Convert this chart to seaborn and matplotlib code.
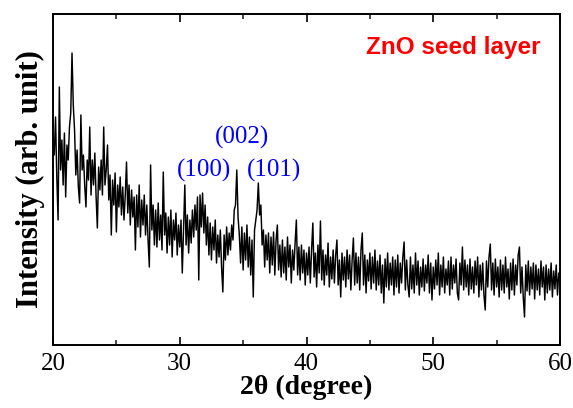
import numpy as np
import pandas as pd
import matplotlib
matplotlib.use("Agg")
import matplotlib.pyplot as plt
import seaborn as sns

# 2-theta grid (degrees): start, step
theta_start = 20.1
theta_step = 0.1

# Intensity (arb. unit), in four segments
seg_20_30 = [190, 228, 168, 125, 258, 175, 205, 160, 212, 148,
             200, 185, 218, 232, 292, 240, 215, 170, 195, 158,
             142, 230, 175, 190, 160, 138, 185, 165, 218, 150,
             185, 160, 192, 148, 117, 178, 155, 185, 150, 218,
             160, 175, 200, 145, 170, 110, 165, 140, 172, 113,
             160, 138, 168, 130, 158, 125, 150, 183, 132, 160,
             120, 155, 128, 148, 95, 150, 118, 160, 108, 145,
             120, 150, 110, 140, 105, 78, 180, 115, 140, 100,
             135, 98, 142, 105, 130, 95, 173, 110, 132, 92,
             128, 100, 135, 88, 125, 105, 132, 90, 120, 98]
seg_30_40 = [125, 72, 118, 160, 100, 130, 92, 125, 102, 135,
             108, 140, 115, 148, 65, 150, 118, 152, 112, 140,
             100, 128, 90, 122, 85, 118, 95, 125, 82, 110,
             88, 115, 78, 53, 110, 85, 118, 90, 112, 95,
             120, 105, 135, 140, 175, 128, 110, 82, 118, 75,
             112, 85, 120, 78, 108, 70, 105, 48, 115, 125,
             135, 162, 130, 140, 100, 115, 78, 110, 85, 112,
             72, 108, 80, 113, 70, 105, 120, 75, 100, 68,
             105, 72, 98, 65, 108, 78, 100, 62, 95, 75,
             102, 125, 70, 98, 65, 100, 72, 95, 60, 92]
seg_40_50 = [70, 98, 62, 95, 122, 68, 92, 58, 100, 72,
             124, 65, 95, 60, 90, 70, 102, 58, 88, 66,
             95, 62, 90, 105, 60, 85, 48, 92, 65, 88,
             58, 95, 66, 90, 55, 85, 107, 60, 92, 62,
             88, 55, 95, 112, 60, 90, 52, 85, 64, 92,
             56, 88, 62, 95, 55, 84, 60, 90, 52, 80,
             42, 86, 58, 92, 55, 82, 60, 88, 50, 85,
             58, 90, 52, 82, 62, 88, 103, 55, 85, 60,
             48, 88, 56, 80, 52, 92, 60, 84, 50, 78,
             58, 86, 54, 80, 62, 90, 52, 82, 45, 78]
seg_50_60 = [56, 85, 60, 92, 50, 80, 58, 88, 52, 76,
             60, 84, 50, 88, 56, 80, 62, 86, 52, 45,
             82, 60, 98, 55, 85, 58, 80, 50, 86, 56,
             78, 52, 84, 60, 88, 48, 80, 55, 82, 50,
             35, 84, 58, 88, 101, 55, 82, 50, 86, 58,
             78, 48, 85, 55, 80, 52, 88, 58, 76, 46,
             82, 55, 86, 50, 80, 60, 90, 98, 52, 78,
             48, 28, 80, 54, 84, 50, 78, 56, 82, 46,
             80, 55, 76, 50, 84, 58, 78, 45, 80, 52,
             76, 55, 82, 48, 74, 56, 80, 50, 72]

peak_labels = ["(100)", "(002)", "(101)"]
peak_label_x = [31.9, 34.95, 37.4]
peak_label_y = [175, 208, 175]

x_ticks = [20, 30, 40, 50, 60]

intensity = seg_20_30 + seg_30_40 + seg_40_50 + seg_50_60
two_theta = np.round(theta_start + theta_step * np.arange(len(intensity)), 2)
df = pd.DataFrame({"two_theta": two_theta, "intensity": intensity})

sns.set_theme(style="ticks")
plt.rcParams["font.family"] = ["Liberation Serif", "DejaVu Serif"]

fig = plt.figure(figsize=(5.73, 4.08), dpi=100)
ax = fig.add_axes([53 / 573, 1 - 345 / 408, 507 / 573, 331 / 408])

sns.lineplot(data=df, x="two_theta", y="intensity", color="black",
             linewidth=1.05, ax=ax, sort=False)

ax.set_xlim(20, 60)
ax.set_ylim(0, 331)
ax.set_xticks(x_ticks)
ax.set_xticks([25, 35, 45, 55], minor=True)
ax.set_yticks([])
ax.tick_params(axis="x", which="major", direction="in", length=6, width=1.2,
               top=True, labelsize=18, pad=6, colors="black")
ax.tick_params(axis="x", which="minor", direction="in", length=3.5, width=1.2,
               top=True)
for sp in ax.spines.values():
    sp.set_linewidth(1.4)
    sp.set_color("black")
    sp.set_visible(True)

ax.set_xlabel("2θ (degree)", fontsize=20, fontweight="bold", labelpad=0,
              color="black")
ax.set_ylabel("Intensity (arb. unit)", fontsize=22, fontweight="bold",
              labelpad=6, color="black")

for lab, lx, ly in zip(peak_labels, peak_label_x, peak_label_y):
    ax.text(lx, ly, lab, color="blue", fontsize=18, ha="center", va="center")

ax.text(0.79, 0.9, "ZnO seed layer", transform=ax.transAxes, color="red",
        fontsize=17.5, fontweight="bold", ha="center", va="center",
        family=["Liberation Sans", "DejaVu Sans"])

fig.savefig("out.png", dpi=100)
